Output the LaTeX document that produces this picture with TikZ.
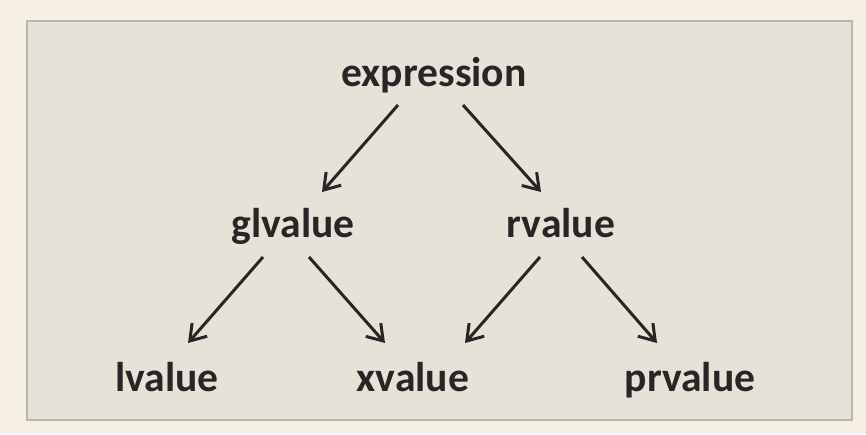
\documentclass[tikz,border=0pt]{standalone}
\usepackage{fontspec}
\setmainfont{Carlito}
\usetikzlibrary{arrows.meta}
\definecolor{outerbg}{HTML}{F6F0E4}
\definecolor{innerbg}{HTML}{E7E2D8}
\definecolor{frame}{HTML}{BAB7AF}
\definecolor{ink}{HTML}{262626}
\tikzset{
  lbl/.style={font=\bfseries\fontsize{20.8}{24}\selectfont, text=ink, inner sep=0pt, anchor=base},
  arr/.style={draw=ink, line width=1.5pt, -{Straight Barb[length=7.5pt,width=10pt,line width=1.5pt]}}
}
\begin{document}
\begin{tikzpicture}[x=0.5pt,y=-0.5pt]
\fill[outerbg] (0,0) rectangle (866,434);
\useasboundingbox (0,0) rectangle (866,434);
\filldraw[fill=innerbg, draw=frame, line width=1.2pt] (27,21) rectangle (852,420);
\node[lbl] (expr) at (434,86) {expression};
\node[lbl] (gl) at (293,237) {glvalue};
\node[lbl] (rv) at (561,237) {rvalue};
\node[lbl] (lv) at (167,391) {lvalue};
\node[lbl] (xv) at (413,391) {xvalue};
\node[lbl] (pr) at (690,391) {prvalue};
\draw[arr] ([shift={(-36,19)}]expr.base) -- ([shift={(29,-45)}]gl.base);
\draw[arr] ([shift={(29,19)}]expr.base) -- ([shift={(-20,-45)}]rv.base);
\draw[arr] ([shift={(-30,20)}]gl.base) -- ([shift={(21,-48)}]lv.base);
\draw[arr] ([shift={(16,20)}]gl.base) -- ([shift={(-28,-48)}]xv.base);
\draw[arr] ([shift={(-21,20)}]rv.base) -- ([shift={(52,-48)}]xv.base);
\draw[arr] ([shift={(21,20)}]rv.base) -- ([shift={(-33,-48)}]pr.base);
\end{tikzpicture}
\end{document}
